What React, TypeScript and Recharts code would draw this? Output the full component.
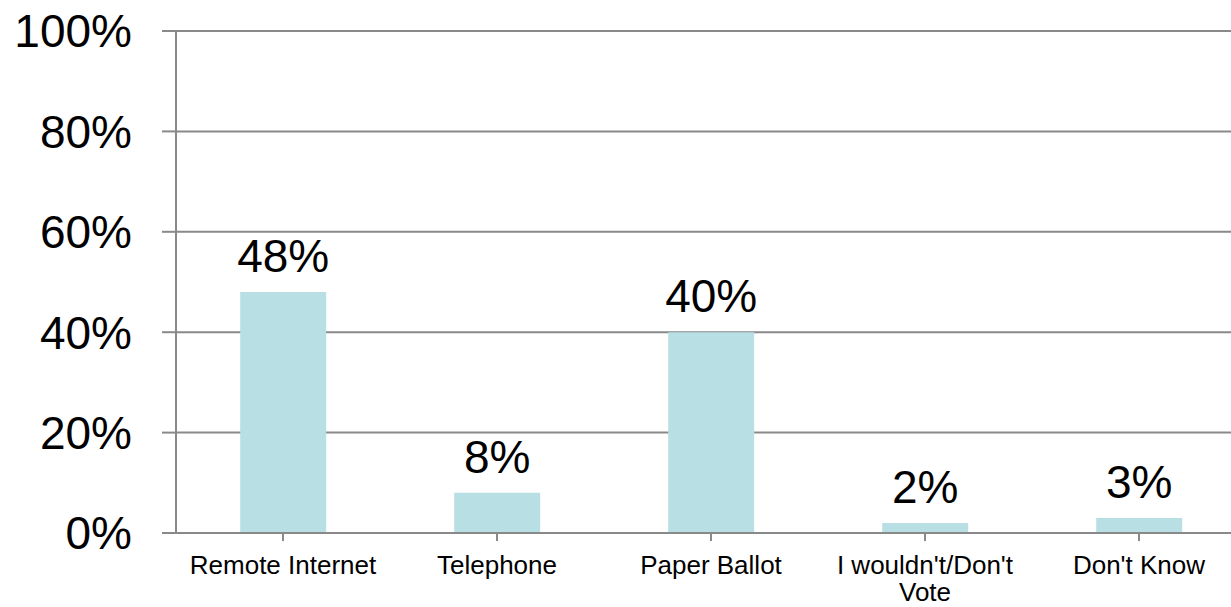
import React from "react";
import { BarChart, Bar, XAxis, YAxis, CartesianGrid, LabelList } from "recharts";

const categories = ["Remote Internet", "Telephone", "Paper Ballot", "I wouldn't/Don't Vote", "Don't Know"];
const values = [48, 8, 40, 2, 3];
const yTicks = [0, 20, 40, 60, 80, 100];

const data = categories.map((c, i) => ({ name: c, value: values[i] }));

const FONT = "'Liberation Sans', Arial, sans-serif";
const GRAY = "#898989";
const CAT_FONT_SIZE = 26;
const MAX_LABEL_WIDTH = 205;

let measureCtx: CanvasRenderingContext2D | null = null;
function measure(s: string): number {
  if (!measureCtx) {
    const c = document.createElement("canvas");
    measureCtx = c.getContext("2d");
  }
  if (!measureCtx) return s.length * CAT_FONT_SIZE * 0.5;
  measureCtx.font = `${CAT_FONT_SIZE}px ${FONT}`;
  return measureCtx.measureText(s).width;
}

function wrap(s: string): string[] {
  const words = s.split(" ");
  const lines: string[] = [];
  let cur = "";
  for (const w of words) {
    const cand = cur ? cur + " " + w : w;
    if (cur && measure(cand) > MAX_LABEL_WIDTH) {
      lines.push(cur);
      cur = w;
    } else {
      cur = cand;
    }
  }
  if (cur) lines.push(cur);
  return lines;
}

const CatTick = (props: any) => {
  const { x, y, payload } = props;
  const lines = wrap(String(payload.value));
  return (
    <text
      x={x}
      y={y}
      textAnchor="middle"
      fontSize={CAT_FONT_SIZE}
      fontFamily={FONT}
      fill="#000"
    >
      {lines.map((l, i) => (
        <tspan key={i} x={x} dy={i === 0 ? "0.71em" : 27}>
          {l}
        </tspan>
      ))}
    </text>
  );
};

export default function App() {
  return (
    <div style={{ position: "fixed", left: 0, top: 0, width: 1231, height: 607, overflow: "hidden", background: "#fff" }}>
      <BarChart
        width={1246}
        height={607}
        data={data}
        margin={{ top: 31, right: 0, bottom: 0, left: 0 }}
        barCategoryGap="30%"
      >
        <CartesianGrid vertical={false} stroke={GRAY} strokeWidth={2} />
        <XAxis
          dataKey="name"
          height={74}
          stroke={GRAY}
          strokeWidth={2}
          tickSize={8}
          tickMargin={15}
          interval={0}
          tick={<CatTick />}
        />
        <YAxis
          width={176}
          domain={[0, 100]}
          ticks={yTicks}
          tickFormatter={(v: number) => `${v}%`}
          stroke={GRAY}
          strokeWidth={2}
          tickSize={14}
          tickMargin={30}
          tick={{ fill: "#000", fontSize: 46, fontFamily: FONT }}
          interval={0}
        />
        <Bar dataKey="value" fill="#b8dfe3" isAnimationActive={false}>
          <LabelList
            dataKey="value"
            position="top"
            offset={20}
            formatter={(v: any) => `${v}%`}
            style={{ fill: "#000", fontSize: 46, fontFamily: FONT }}
          />
        </Bar>
      </BarChart>
    </div>
  );
}
